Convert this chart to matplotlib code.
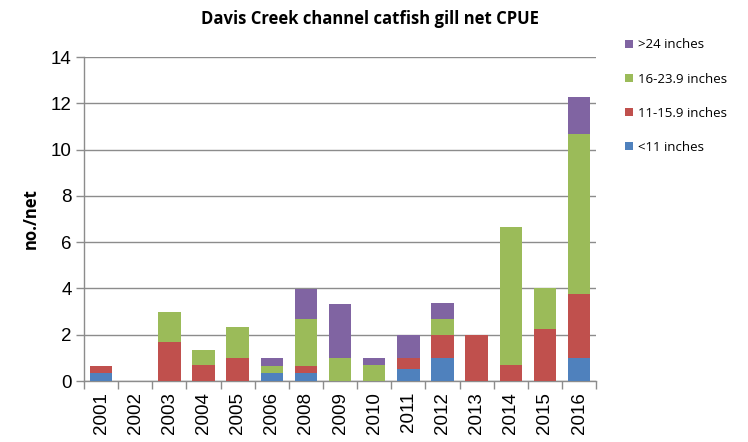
import numpy as np
import matplotlib
matplotlib.use("Agg")
import matplotlib.pyplot as plt
from matplotlib.patches import Patch

years = ["2001", "2002", "2003", "2004", "2005", "2006", "2008", "2009",
         "2010", "2011", "2012", "2013", "2014", "2015", "2016"]
lt11 = [0.33, 0, 0, 0, 0, 0.33, 0.33, 0, 0, 0.5, 1.0, 0, 0, 0, 1.0]
r11_16 = [0.33, 0, 1.67, 0.67, 1.0, 0, 0.33, 0, 0, 0.5, 1.0, 2.0, 0.67, 2.25, 2.75]
r16_24 = [0, 0, 1.33, 0.67, 1.33, 0.33, 2.0, 1.0, 0.67, 0, 0.7, 0, 6.0, 1.75, 6.92]
gt24 = [0, 0, 0, 0, 0, 0.33, 1.33, 2.33, 0.33, 1.0, 0.67, 0, 0, 0, 1.62]

series = [("<11 inches", lt11, "#4F81BD"),
          ("11-15.9 inches", r11_16, "#C0504D"),
          ("16-23.9 inches", r16_24, "#9BBB59"),
          (">24 inches", gt24, "#8064A2")]

grid_c = "#8C8C8C"

fig = plt.figure(figsize=(7.48, 4.42), dpi=100)
ax = fig.add_axes([0.1123, 0.138, 0.797 - 0.1123, 0.871 - 0.138])

x = np.arange(len(years))
bottom = np.zeros(len(years))
for name, vals, col in series:
    vals = np.array(vals)
    ax.bar(x, vals, 0.66, bottom=bottom, color=col, label=name, zorder=3)
    bottom += vals

ax.set_xlim(-0.5, len(years) - 0.5)
ax.set_ylim(0, 14)
ax.set_yticks(range(0, 15, 2))
ax.yaxis.grid(True, color=grid_c, linewidth=1, zorder=0)

ax.set_xticks(x)
ax.set_xticklabels(years, rotation=90, fontsize=13.5, family="Liberation Sans")
ax.set_xticks(np.arange(-0.5, len(years)), minor=True)
ax.tick_params(axis="x", which="major", length=0, pad=8)
ax.tick_params(axis="x", which="minor", length=6, color=grid_c, width=1)
ax.tick_params(axis="y", length=6, color=grid_c, width=1, pad=3)
for lab in ax.get_yticklabels():
    lab.set_fontsize(13.5)
    lab.set_family("Liberation Sans")

for s in ["top", "right"]:
    ax.spines[s].set_visible(False)
for s in ["left", "bottom"]:
    ax.spines[s].set_color(grid_c)
    ax.spines[s].set_linewidth(1)

ax.set_ylabel("no./net", fontsize=12, fontweight="bold", family="Open Sans", labelpad=8)
fig.text(0.495, 0.958, "Davis Creek channel catfish gill net CPUE", ha="center",
         va="center", fontsize=12, fontweight="bold", family="Open Sans")

handles = [Patch(facecolor=c, label=n) for n, v, c in series][::-1]
fig.legend(handles=handles, loc="upper left", bbox_to_anchor=(0.82, 0.94),
           frameon=False, handlelength=0.6, handleheight=0.6,
           handletextpad=0.4, labelspacing=1.6, prop={"family": "Open Sans", "size": 9.5})

fig.savefig("out.png", dpi=100)
